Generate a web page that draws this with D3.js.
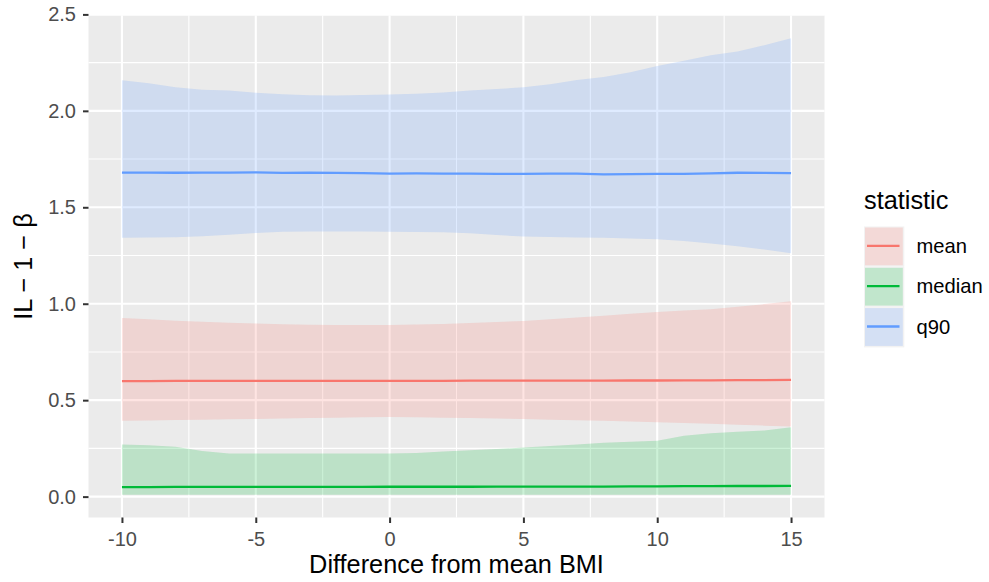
<!DOCTYPE html>
<html>
<head>
<meta charset="utf-8">
<script src="https://cdn.jsdelivr.net/npm/d3@7"></script>
<style>
  body { margin: 0; background: #fff; }
  svg text { font-family: "Liberation Sans", Arial, Helvetica, sans-serif; }
</style>
</head>
<body>
<svg id="chart" width="989" height="582"></svg>
<script>
// ---- data ----
const xValues = [-10,-9,-8,-7,-6,-5,-4,-3,-2,-1,0,1,2,3,4,5,6,7,8,9,10,11,12,13,14,15];
const statistics = ["mean", "median", "q90"];
const colors = ["#F8766D", "#00BA38", "#619CFF"];

const meanValue = [0.599,0.599,0.600,0.600,0.600,0.600,0.600,0.600,0.600,0.600,0.600,0.600,0.600,0.601,0.601,0.601,0.601,0.601,0.601,0.602,0.602,0.603,0.603,0.604,0.604,0.605];
const meanLow   = [0.393,0.395,0.397,0.399,0.401,0.403,0.405,0.407,0.409,0.412,0.413,0.411,0.409,0.407,0.405,0.402,0.399,0.396,0.393,0.390,0.386,0.382,0.378,0.373,0.368,0.363];
const meanHigh  = [0.926,0.919,0.912,0.907,0.902,0.898,0.894,0.891,0.890,0.890,0.890,0.892,0.895,0.900,0.905,0.911,0.919,0.928,0.938,0.948,0.957,0.965,0.972,0.984,0.998,1.013];

const medianValue = [0.049,0.049,0.050,0.050,0.050,0.050,0.050,0.050,0.050,0.050,0.051,0.051,0.051,0.051,0.052,0.052,0.052,0.052,0.052,0.053,0.053,0.054,0.054,0.055,0.055,0.056];
const medianLow   = [0.010,0.010,0.010,0.010,0.010,0.010,0.010,0.010,0.010,0.010,0.010,0.010,0.010,0.010,0.010,0.010,0.010,0.010,0.010,0.010,0.010,0.010,0.010,0.010,0.010,0.010];
const medianHigh  = [0.270,0.266,0.258,0.236,0.224,0.223,0.223,0.223,0.223,0.223,0.223,0.226,0.234,0.240,0.247,0.254,0.262,0.270,0.279,0.284,0.289,0.315,0.329,0.336,0.343,0.360];

const q90Value = [1.680,1.680,1.679,1.680,1.680,1.681,1.678,1.679,1.678,1.677,1.675,1.676,1.675,1.674,1.673,1.673,1.674,1.674,1.671,1.672,1.673,1.673,1.676,1.679,1.678,1.677];
const q90Low   = [1.342,1.343,1.345,1.350,1.358,1.367,1.373,1.375,1.375,1.374,1.373,1.372,1.370,1.365,1.356,1.349,1.346,1.344,1.342,1.338,1.334,1.325,1.312,1.298,1.281,1.262];
const q90High  = [2.158,2.143,2.122,2.110,2.106,2.094,2.086,2.081,2.080,2.082,2.085,2.088,2.095,2.105,2.113,2.122,2.138,2.160,2.175,2.200,2.233,2.260,2.288,2.308,2.340,2.376];

const xTicks = [-10, -5, 0, 5, 10, 15];
const xTickLabels = ["-10", "-5", "0", "5", "10", "15"];
const yTicks = [0.0, 0.5, 1.0, 1.5, 2.0, 2.5];
const yTickLabels = ["0.0", "0.5", "1.0", "1.5", "2.0", "2.5"];
const xMinor = [-7.5, -2.5, 2.5, 7.5, 12.5];
const yMinor = [0.25, 0.75, 1.25, 1.75, 2.25];

const xTitle = "Difference from mean BMI";
const yTitle = "IL \u2212 1 \u2212 \u03B2";
const legendTitle = "statistic";

// ---- build series ----
const seriesValues = [meanValue, medianValue, q90Value];
const seriesLow = [meanLow, medianLow, q90Low];
const seriesHigh = [meanHigh, medianHigh, q90High];
const series = statistics.map((s, i) => ({
  name: s, color: colors[i],
  pts: xValues.map((x, j) => ({x, v: seriesValues[i][j], lo: seriesLow[i][j], hi: seriesHigh[i][j]}))
}));

// ---- layout ----
const panel = {left: 88.5, right: 824.5, top: 15.5, bottom: 517.5};
const svg = d3.select("#chart");

// ggplot-style expansion
const xDomain = d3.extent(xValues);
const xr = xDomain[1] - xDomain[0];
const x = d3.scaleLinear().domain([xDomain[0] - 0.05 * xr, xDomain[1] + 0.05 * xr]).range([panel.left, panel.right]);
const yMin = d3.min(seriesLow.flat()), yMax = d3.max(seriesHigh.flat());
const yr = yMax - yMin;
const y = d3.scaleLinear().domain([yMin - 0.05 * yr, yMax + 0.05 * yr]).range([panel.bottom, panel.top]);

// panel background
svg.append("rect").attr("x", panel.left).attr("y", panel.top)
  .attr("width", panel.right - panel.left).attr("height", panel.bottom - panel.top)
  .attr("fill", "#EBEBEB");

const grid = svg.append("g");
grid.selectAll(".ymin").data(yMinor).join("line")
  .attr("x1", panel.left).attr("x2", panel.right)
  .attr("y1", d => y(d)).attr("y2", d => y(d))
  .attr("stroke", "#fff").attr("stroke-width", 1.1);
grid.selectAll(".xmin").data(xMinor).join("line")
  .attr("y1", panel.top).attr("y2", panel.bottom)
  .attr("x1", d => x(d)).attr("x2", d => x(d))
  .attr("stroke", "#fff").attr("stroke-width", 1.1);
grid.selectAll(".ymaj").data(yTicks).join("line")
  .attr("x1", panel.left).attr("x2", panel.right)
  .attr("y1", d => y(d)).attr("y2", d => y(d))
  .attr("stroke", "#fff").attr("stroke-width", 2.1);
grid.selectAll(".xmaj").data(xTicks).join("line")
  .attr("y1", panel.top).attr("y2", panel.bottom)
  .attr("x1", d => x(d)).attr("x2", d => x(d))
  .attr("stroke", "#fff").attr("stroke-width", 2.1);

// ribbons
const area = d3.area().x(d => x(d.x)).y0(d => y(d.lo)).y1(d => y(d.hi));
svg.append("g").selectAll("path").data(series).join("path")
  .attr("d", d => area(d.pts))
  .attr("fill", d => d.color).attr("fill-opacity", 0.2);

// lines
const line = d3.line().x(d => x(d.x)).y(d => y(d.v));
svg.append("g").selectAll("path").data(series).join("path")
  .attr("d", d => line(d.pts))
  .attr("fill", "none").attr("stroke", d => d.color).attr("stroke-width", 2.3);

// axes
const xAxis = d3.axisBottom(x).tickValues(xTicks).tickSize(5.5).tickPadding(4)
  .tickFormat((d, i) => xTickLabels[i]);
const gx = svg.append("g").attr("transform", `translate(0,${panel.bottom})`).call(xAxis);
gx.select(".domain").remove();
gx.selectAll(".tick line").attr("stroke", "#333").attr("stroke-width", 2);
gx.selectAll(".tick text").attr("fill", "#4D4D4D").attr("font-size", "20px")
  .attr("y", 28.5).attr("dy", null);

const yAxis = d3.axisLeft(y).tickValues(yTicks).tickSize(5.5).tickPadding(7)
  .tickFormat((d, i) => yTickLabels[i]);
const gy = svg.append("g").attr("transform", `translate(${panel.left},0)`).call(yAxis);
gy.select(".domain").remove();
gy.selectAll(".tick line").attr("stroke", "#333").attr("stroke-width", 2);
gy.selectAll(".tick text").attr("fill", "#4D4D4D").attr("font-size", "20px");

// titles
svg.append("text").attr("x", (panel.left + panel.right) / 2).attr("y", 573)
  .attr("text-anchor", "middle").attr("font-size", "25.3px").attr("fill", "#000").text(xTitle);
svg.append("text").attr("transform", `translate(32,${(panel.top + panel.bottom) / 2}) rotate(-90)`)
  .attr("text-anchor", "middle").attr("font-size", "25.3px").attr("fill", "#000").text(yTitle);

// legend
const leg = svg.append("g").attr("transform", "translate(864,0)");
leg.append("text").attr("x", 0).attr("y", 209).attr("font-size", "25.3px").attr("fill", "#000").text(legendTitle);
const keyTop = 226.5, keySize = 40.3;
const keys = leg.selectAll("g.key").data(series).join("g")
  .attr("transform", (d, i) => `translate(0,${keyTop + i * keySize})`);
keys.append("rect").attr("width", keySize).attr("height", keySize).attr("fill", "#F2F2F2");
keys.append("rect").attr("x", 1).attr("y", 1).attr("width", keySize - 2.5).attr("height", keySize - 2.5)
  .attr("fill", d => d.color).attr("fill-opacity", 0.2);
keys.append("line").attr("x1", 3).attr("x2", 35.5)
  .attr("y1", (keySize - 1.5) / 2).attr("y2", (keySize - 1.5) / 2)
  .attr("stroke", d => d.color).attr("stroke-width", 2.3);
keys.append("text").attr("x", 52.5).attr("y", (keySize - 1.5) / 2).attr("dy", "0.35em")
  .attr("font-size", "20.2px").attr("fill", "#000").text(d => d.name);
</script>
</body>
</html>
